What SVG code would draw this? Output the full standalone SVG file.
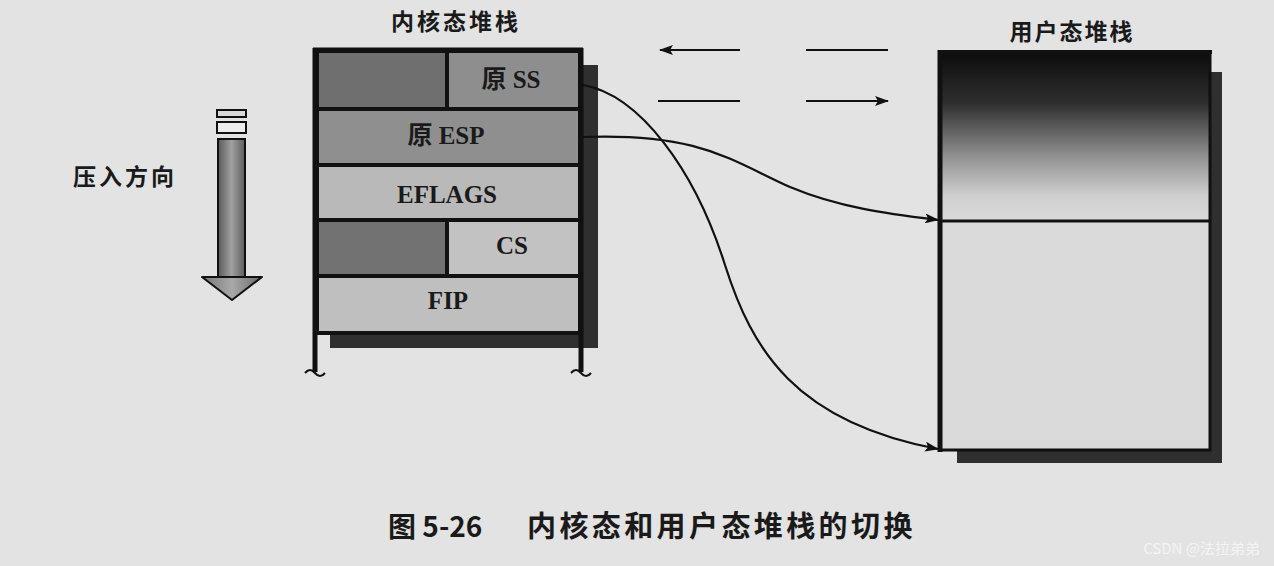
<svg xmlns="http://www.w3.org/2000/svg" width="1274" height="566" viewBox="0 0 1274 566">
<defs>
<linearGradient id="userGrad" x1="0" y1="0" x2="0" y2="1">
<stop offset="0" stop-color="#0c0c0c"/>
<stop offset="0.3" stop-color="#2e2e2e"/>
<stop offset="0.65" stop-color="#9a9a9a"/>
<stop offset="0.85" stop-color="#cfcfcf"/>
<stop offset="1" stop-color="#d9d9d9"/>
</linearGradient>
<linearGradient id="shaftGrad" x1="0" y1="0" x2="1" y2="0">
<stop offset="0" stop-color="#5a5a5a"/>
<stop offset="0.5" stop-color="#a0a0a0"/>
<stop offset="1" stop-color="#5e5e5e"/>
</linearGradient>
<linearGradient id="headGrad" x1="0" y1="0" x2="1" y2="0">
<stop offset="0" stop-color="#777"/>
<stop offset="0.5" stop-color="#a8a8a8"/>
<stop offset="1" stop-color="#6a6a6a"/>
</linearGradient>
<marker id="ah" viewBox="0 0 14 10" refX="13" refY="5" markerWidth="14" markerHeight="10" markerUnits="userSpaceOnUse" orient="auto">
<path d="M0,0 L14,5 L0,10 L3,5 Z" fill="#111"/>
</marker>
</defs>
<style>
.cjk{font-family:"Noto Sans CJK SC","Noto Sans CJK JP",sans-serif;font-weight:bold;fill:#1a1a1a}
.lbl{font-family:"Liberation Serif","Noto Sans CJK SC",serif;font-size:25px;font-weight:bold;fill:#1a1a1a;text-anchor:middle}
.cell{stroke:#111;stroke-width:4}
.frame{stroke:#111;stroke-width:5;fill:none}
.shadow{fill:#2f2f2f}
.conn{fill:none;stroke:#111;stroke-width:2.2}
</style>
<rect x="0" y="0" width="1274" height="566" fill="#e3e3e3"/>

<g id="push-direction">
<rect x="217" y="110" width="29" height="7" fill="#d8d8d8" stroke="#111" stroke-width="2"/>
<rect x="217" y="122" width="29" height="11" fill="#ececec" stroke="#111" stroke-width="2"/>
<rect x="218" y="139" width="27" height="140" fill="url(#shaftGrad)" stroke="#111" stroke-width="2"/>
<path d="M202,277 L262,277 L232,300 Z" fill="url(#headGrad)" stroke="#111" stroke-width="2" stroke-linejoin="round"/>
<text class="cjk" x="125" y="185" font-size="23" letter-spacing="3" text-anchor="middle">压入方向</text>
</g>

<g id="kernel-stack">
<text class="cjk" x="456" y="30" font-size="23" letter-spacing="3" text-anchor="middle">内核态堆栈</text>
<rect class="shadow" x="582" y="65" width="16" height="283"/>
<rect class="shadow" x="330" y="332" width="268" height="16"/>
<rect class="cell" x="317" y="51" width="130" height="58" fill="#6f6f6f"/>
<rect class="cell" x="447" y="51" width="133" height="58" fill="#8e8e8e"/>
<rect class="cell" x="317" y="109" width="263" height="56" fill="#8f8f8f"/>
<rect class="cell" x="317" y="165" width="263" height="55" fill="#b9b9b9"/>
<rect class="cell" x="317" y="220" width="130" height="56" fill="#727272"/>
<rect class="cell" x="447" y="220" width="133" height="56" fill="#c2c2c2"/>
<rect class="cell" x="317" y="276" width="263" height="57" fill="#bfbfbf"/>
<line class="frame" x1="315" y1="48" x2="315" y2="372"/>
<line class="frame" x1="581" y1="48" x2="581" y2="372"/>
<line class="frame" x1="313" y1="50" x2="583" y2="50"/>
<path d="M305,373 q5,-6 10,0 t10,0" fill="none" stroke="#111" stroke-width="2"/>
<path d="M571,373 q5,-6 10,0 t10,0" fill="none" stroke="#111" stroke-width="2"/>
<text class="lbl" x="511" y="88">原 SS</text>
<text class="lbl" x="446" y="144">原 ESP</text>
<text class="lbl" x="447" y="203">EFLAGS</text>
<text class="lbl" x="512" y="254">CS</text>
<text class="lbl" x="448" y="309">FIP</text>
</g>

<g id="user-stack">
<text class="cjk" x="1072" y="40" font-size="23" letter-spacing="2" text-anchor="middle">用户态堆栈</text>
<rect class="shadow" x="1210" y="72" width="12" height="391"/>
<rect class="shadow" x="957" y="450" width="265" height="13"/>
<rect x="940" y="52" width="270" height="169" fill="url(#userGrad)"/>
<rect x="940" y="221" width="270" height="229" fill="#dadada"/>
<rect x="940" y="52" width="270" height="398" fill="none" stroke="#111" stroke-width="3"/>
<line x1="940" y1="50" x2="940" y2="452" stroke="#111" stroke-width="5"/>
<line x1="938" y1="52" x2="1212" y2="52" stroke="#111" stroke-width="4"/>
<line x1="940" y1="221" x2="1210" y2="221" stroke="#111" stroke-width="3"/>
</g>

<g id="connectors">
<line class="conn" x1="740" y1="50" x2="660" y2="50" marker-end="url(#ah)"/>
<line class="conn" x1="806" y1="50" x2="888" y2="50"/>
<line class="conn" x1="658" y1="101" x2="740" y2="101"/>
<line class="conn" x1="806" y1="101" x2="888" y2="101" marker-end="url(#ah)"/>
<path class="conn" d="M583,85 C640,95 695,170 725,265 C752,350 795,422 938,449" marker-end="url(#ah)"/>
<path class="conn" d="M583,137 C700,133 730,160 790,187 C840,208 890,214 938,220" marker-end="url(#ah)"/>
</g>

<g id="caption">
<text class="cjk" x="388" y="537" font-size="28">图 5-26</text>
<text class="cjk" x="527" y="537" font-size="29" letter-spacing="3.4">内核态和用户态堆栈的切换</text>
<text x="1260" y="554" font-family="'Noto Sans CJK SC',sans-serif" font-size="15" fill="#f4f4f4" text-anchor="end">CSDN @法拉弟弟</text>
</g>
</svg>
